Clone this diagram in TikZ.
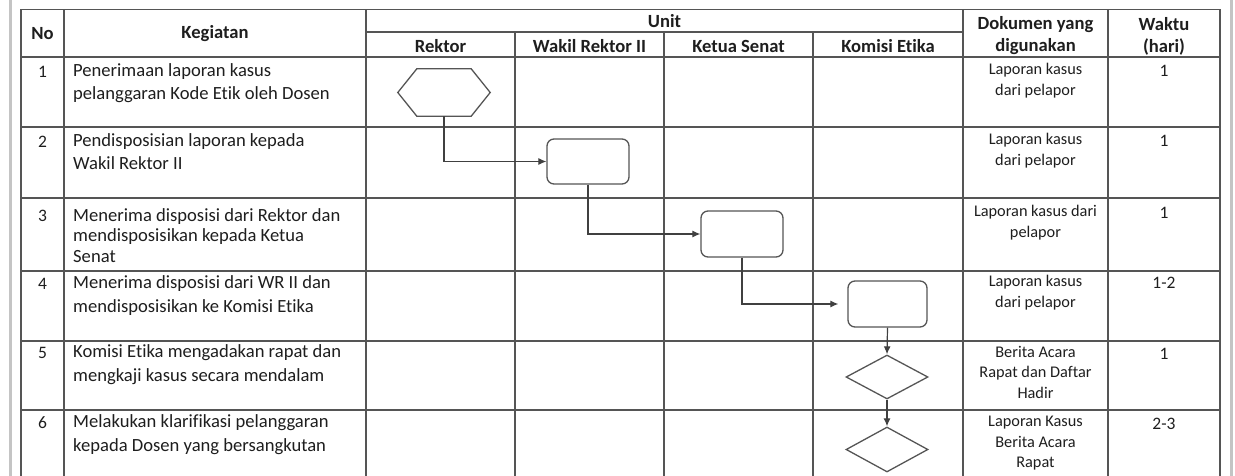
\documentclass[tikz,border=0pt]{standalone}
\usepackage{fontspec}
\setmainfont[Ligatures=NoCommon]{Carlito}
\usetikzlibrary{shapes.geometric,arrows.meta}
\definecolor{gridc}{HTML}{555555}
\definecolor{framec}{HTML}{C4C4C4}
\definecolor{txtc}{HTML}{1E1E1E}
\begin{document}
\begin{tikzpicture}[x=1pt,y=-1pt,
  tbl/.style={draw=gridc,line width=1.2pt},
  shp/.style={draw=gridc,line width=1.3pt},
  flow/.style={draw=black!75,line width=1.2pt,-{Latex[length=8pt,width=7pt]}},
  hd/.style={font=\fontsize{18.6}{22}\selectfont\bfseries,text=txtc,inner sep=0},
  kg/.style={font=\fontsize{18.6}{23}\selectfont,text=txtc,align=left,anchor=north west,inner sep=0},
  dk/.style={font=\fontsize{16.3}{20.5}\selectfont,text=txtc,align=center,anchor=north,inner sep=0},
  num/.style={font=\fontsize{17.5}{21}\selectfont,text=txtc,inner sep=0},
]
\useasboundingbox (0,0) rectangle (1235,476);
% outer frame
\draw[framec,line width=3pt] (10,0) -- (10,476);
\draw[framec,line width=3pt] (1231,0) -- (1231,476);
% table
\draw[tbl] (21,476) -- (21,9.5) -- (1220,9.5) -- (1220,476);
\draw[tbl] (366,32) -- (963,32);
\foreach \yy in {57,127,198,271,341,410} \draw[tbl] (21,\yy) -- (1220,\yy);
\foreach \xx in {64,366,963,1108} \draw[tbl] (\xx,9.5) -- (\xx,476);
\foreach \xx in {515,664,813} \draw[tbl] (\xx,32) -- (\xx,476);
% headers
\node[hd] (hno) at (42.5,34) {No};
\node[hd] (hkeg) at (215,34) {Kegiatan};
\node[hd] (hunit) at (664.5,21.5) {Unit};
\node[hd] (hrek) at (440.5,46) {Rektor};
\node[hd] (hwr) at (589.5,46) {Wakil Rektor II};
\node[hd] (hks) at (738.5,46) {Ketua Senat};
\node[hd] (hke) at (888,46) {Komisi Etika};
\node[hd,align=center] (hdok) at (1035.5,36) {Dokumen yang\\digunakan};
\node[hd,align=center] (hwak) at (1164,36) {Waktu\\(hari)};
% numbers
\node[num] (n1) at (42.5,72) {1};
\node[num] (n2) at (42.5,142) {2};
\node[num] (n3) at (42.5,216) {3};
\node[num] (n4) at (42.5,284) {4};
\node[num] (n5) at (42.5,353) {5};
\node[num] (n6) at (42.5,423) {6};
% kegiatan
\node[kg] (k1) at (73,63) {Penerimaan laporan kasus\\pelanggaran Kode Etik oleh Dosen};
\node[kg] (k2) at (73,133) {Pendisposisian laporan kepada\\Wakil Rektor II};
\node[kg,font=\fontsize{18.6}{20.5}\selectfont] (k3) at (73,208) {Menerima disposisi dari Rektor dan\\mendisposisikan kepada Ketua\\Senat};
\node[kg,font=\fontsize{18.6}{24}\selectfont] (k4) at (73,275) {Menerima disposisi dari WR II dan\\mendisposisikan ke Komisi Etika};
\node[kg,font=\fontsize{18.6}{24}\selectfont] (k5) at (73,344) {Komisi Etika mengadakan rapat dan\\mengkaji kasus secara mendalam};
\node[kg,font=\fontsize{18.6}{24}\selectfont] (k6) at (73,414) {Melakukan klarifikasi pelanggaran\\kepada Dosen yang bersangkutan};
% dokumen
\node[dk] (d1t) at (1035.5,63) {Laporan kasus\\dari pelapor};
\node[dk] (d2t) at (1035.5,133) {Laporan kasus\\dari pelapor};
\node[dk] (d3t) at (1035.5,205) {Laporan kasus dari\\pelapor};
\node[dk] (d4t) at (1035.5,275) {Laporan kasus\\dari pelapor};
\node[dk] (d5t) at (1035.5,346) {Berita Acara\\Rapat dan Daftar\\Hadir};
\node[dk] (d6t) at (1035.5,416) {Laporan Kasus\\Berita Acara\\Rapat};
% waktu
\node[num] (w1) at (1164,71) {1};
\node[num] (w2) at (1164,141) {1};
\node[num] (w3) at (1164,213) {1};
\node[num] (w4) at (1164,283) {1-2};
\node[num] (w5) at (1164,354) {1};
\node[num] (w6) at (1164,424) {2-3};
% flow shapes
\node[minimum width=92pt,minimum height=47pt,inner sep=0] (hex) at (444,92.5) {};
\draw[shp] (hex.west) -- ([xshift=19pt]hex.north west) -- ([xshift=-19pt]hex.north east)
  -- (hex.east) -- ([xshift=-19pt]hex.south east) -- ([xshift=19pt]hex.south west) -- cycle;
\node[shp,rounded corners=7pt,minimum width=82pt,minimum height=45pt,inner sep=0] (b1) at (588,161.5) {};
\node[shp,rounded corners=7pt,minimum width=82pt,minimum height=46pt,inner sep=0] (b2) at (742,234) {};
\node[shp,rounded corners=7pt,minimum width=79pt,minimum height=46pt,inner sep=0] (b3) at (887.5,304) {};
\node[shp,diamond,minimum width=82pt,minimum height=44pt,inner sep=0] (dm1) at (887,377) {};
\node[shp,diamond,minimum width=82pt,minimum height=45pt,inner sep=0] (dm2) at (887,449.5) {};
% connectors
\draw[flow] (hex.south) |- (b1.west);
\draw[flow] (b1.south) |- (b2.west);
\draw[flow,shorten >=9pt] (b2.south) |- (b3.west);
\draw[flow] (b3.south) -- (dm1.north);
\draw[flow] (dm1.south) -- (dm2.north);
\end{tikzpicture}
\end{document}
